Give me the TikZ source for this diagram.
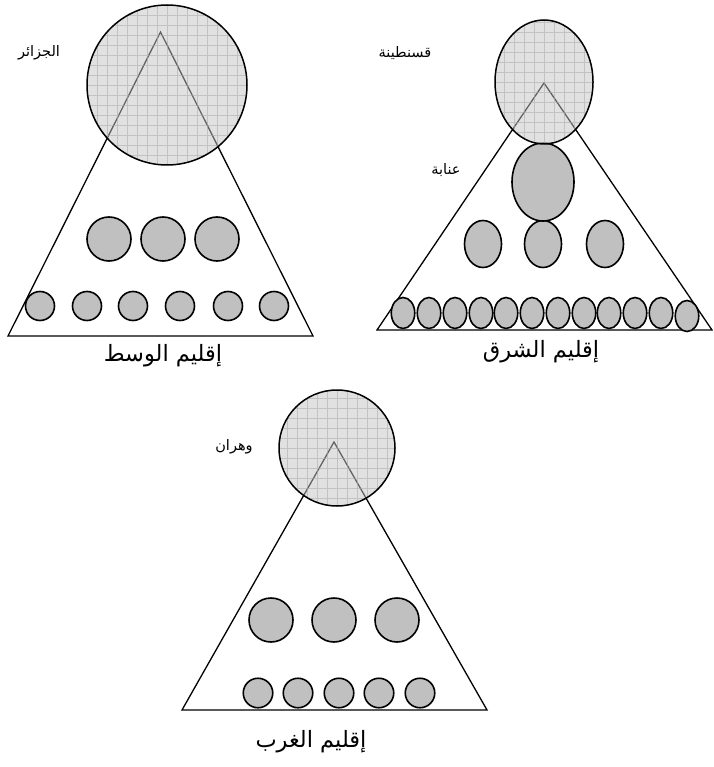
\documentclass[tikz,border=0pt]{standalone}
\usepackage{fontspec}
\usetikzlibrary{shapes.geometric}
\newfontfamily\arabicfont[Script=Arabic]{DejaVu Sans}
\TeXXeTstate=1
\definecolor{ballgray}{HTML}{C0C0C0}
\definecolor{capgray}{HTML}{C4C4C4}
\definecolor{gridgray}{HTML}{A8A8A8}
\tikzset{
  tri/.style={draw=black, line width=1.3pt, line join=miter},
  ballc/.style={circle, draw=black, line width=1.6pt, fill=ballgray, inner sep=0pt, outer sep=0pt},
  balle/.style={ellipse, draw=black, line width=1.6pt, fill=ballgray, inner sep=0pt, outer sep=0pt},
  gridl/.style={draw=gridgray, line width=0.5pt, draw opacity=0.55},
  capbase/.style={draw=black, line width=1.5pt, fill=capgray, fill opacity=0.5, draw opacity=1,
    inner sep=0pt, outer sep=0pt,
    path picture={\draw[gridl, step=10pt] ([shift={(-10pt,-10pt)}]path picture bounding box.south west) grid ([shift={(10pt,10pt)}]path picture bounding box.north east);}},
  capc/.style={circle, capbase},
  cape/.style={ellipse, capbase},
  smalllab/.style={font=\arabicfont\fontsize{14.5}{17}\selectfont, inner sep=0pt},
  biglab/.style={font=\arabicfont\fontsize{22.5}{27}\selectfont, inner sep=0pt},
}
\begin{document}
\begin{tikzpicture}[x=1pt, y=-1pt]
\useasboundingbox (0,0) rectangle (713,767);

% ---------------- centre region
\coordinate (Lapex) at (160.5,32);
\coordinate (Lbl) at (8,336);
\coordinate (Lbr) at (313,336);
\draw[tri] (Lapex) -- (Lbl) -- (Lbr) -- cycle;
\foreach \x [count=\i] in {109,163,217}
  \node[ballc, minimum size=44pt] (Lb\i) at (\x,239) {};
\foreach \x [count=\i] in {40,87,133,180,228,274}
  \node[ballc, minimum size=29pt] (Ls\i) at (\x,306) {};
\node[capc, minimum size=160pt] (alger) at (167,85) {};
\node[smalllab] (lalger) at (39,53) {\beginR الجزائر\endR};
\node[biglab] (lwasat) at (163,356) {\beginR إقليم الوسط\endR};

% ---------------- east region
\coordinate (Eapex) at (544,83);
\coordinate (Ebl) at (377,330);
\coordinate (Ebr) at (712,330);
\draw[tri] (Eapex) -- (Ebl) -- (Ebr) -- cycle;
\foreach \x [count=\i] in {483,543,605}
  \node[balle, minimum width=37pt, minimum height=47pt] (Eb\i) at (\x,244) {};
\foreach \x [count=\i] in {403,429,455,481,506,532,558,584,609,635,661}
  \node[balle, minimum width=23.5pt, minimum height=31pt] (Es\i) at (\x,313) {};
\node[balle, minimum width=23.5pt, minimum height=31pt] (Es12) at (687,316) {};
\node[balle, minimum width=62pt, minimum height=78pt] (annaba) at (543,182) {};
\node[cape, minimum width=98pt, minimum height=124pt] (constantine) at (544,82) {};
\node[smalllab] (lconst) at (405,53) {\beginR قسنطينة\endR};
\node[smalllab] (lannaba) at (446,170) {\beginR عنابة\endR};
\node[biglab] (lsharq) at (541,352) {\beginR إقليم الشرق\endR};

% ---------------- west region
\coordinate (Wapex) at (334,442);
\coordinate (Wbl) at (182,710);
\coordinate (Wbr) at (487,710);
\draw[tri] (Wapex) -- (Wbl) -- (Wbr) -- cycle;
\foreach \x [count=\i] in {271,334,397}
  \node[ballc, minimum size=44pt] (Wb\i) at (\x,620) {};
\foreach \x [count=\i] in {258,298,339,379,420}
  \node[ballc, minimum size=29.5pt] (Ws\i) at (\x,693) {};
\node[capc, minimum size=116pt] (oran) at (337,448) {};
\node[smalllab] (loran) at (234,447) {\beginR وهران\endR};
\node[biglab] (lgharb) at (311,742) {\beginR إقليم الغرب\endR};
\end{tikzpicture}
\end{document}
